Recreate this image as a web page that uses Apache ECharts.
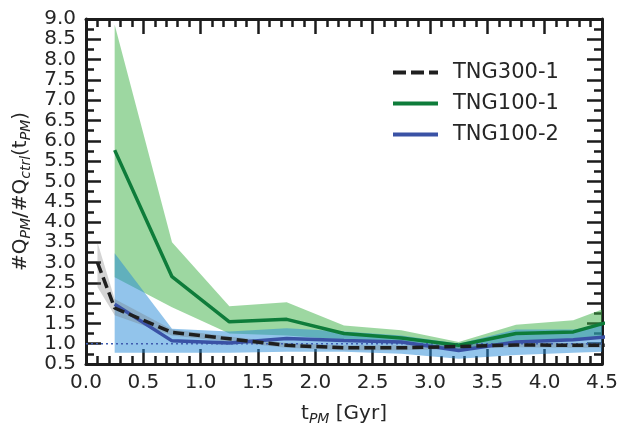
<!DOCTYPE html>
<html>
<head>
<meta charset="utf-8">
<script src="https://cdn.jsdelivr.net/npm/echarts@6/dist/echarts.min.js"></script>
<style>html,body{margin:0;padding:0;background:#fff;}#c{width:619px;height:423px;}</style>
</head>
<body>
<div id="c"></div>
<script>
// ---- data ----
var xTNG300 = [0.1, 0.25, 0.75, 1.25, 1.75, 2.25, 2.75, 3.25, 3.75, 4.25, 4.75];
var yTNG300 = [3.0, 1.88, 1.28, 1.12, 0.96, 0.9, 0.9, 0.93, 0.97, 0.96, 0.96];
var loTNG300 = [2.4, 1.7, 1.2, 1.05, 0.9, 0.84, 0.84, 0.87, 0.91, 0.9, 0.9];
var hiTNG300 = [3.5, 2.1, 1.35, 1.18, 1.02, 0.96, 0.96, 0.99, 1.03, 1.02, 1.02];

var xTNG100 = [0.25, 0.75, 1.25, 1.75, 2.25, 2.75, 3.25, 3.75, 4.25, 4.75];
var yTNG100_1 = [5.77, 2.65, 1.54, 1.6, 1.25, 1.14, 0.96, 1.25, 1.29, 1.69];
var loTNG100_1 = [2.64, 1.9, 1.25, 1.2, 1.1, 1.0, 0.85, 1.05, 1.1, 1.25];
var hiTNG100_1 = [8.86, 3.5, 1.92, 2.02, 1.45, 1.33, 1.04, 1.47, 1.58, 2.1];

var yTNG100_2 = [1.97, 1.07, 1.02, 1.13, 1.08, 1.04, 0.83, 1.04, 1.1, 1.22];
var loTNG100_2 = [0.78, 0.78, 0.78, 0.8, 0.8, 0.75, 0.63, 0.72, 0.78, 0.82];
var hiTNG100_2 = [3.23, 1.37, 1.3, 1.38, 1.3, 1.2, 1.0, 1.35, 1.35, 1.55];

var refX = [0, 4.5];
var refY = [1, 1];

var seriesNames = ['TNG300-1', 'TNG100-1', 'TNG100-2'];

// ---- helpers ----
function pairs(xs, ys) { return xs.map(function (x, i) { return [x, ys[i]]; }); }

function band(xs, lo, hi, color, opacity, z) {
  return {
    type: 'custom', silent: true, z: z,
    data: [[xs[0], lo[0]]],
    renderItem: function (params, api) {
      var pts = [];
      for (var i = 0; i < xs.length; i++) pts.push(api.coord([xs[i], hi[i]]));
      for (var j = xs.length - 1; j >= 0; j--) pts.push(api.coord([xs[j], lo[j]]));
      var cs = params.coordSys;
      return {
        type: 'group',
        clipPath: { type: 'rect', shape: { x: cs.x, y: cs.y, width: cs.width, height: cs.height } },
        children: [{ type: 'polygon', shape: { points: pts }, style: { fill: color, opacity: opacity } }]
      };
    }
  };
}

var FONT = 'DejaVu Sans';
var TXT = '#262626';
var AX = '#1c1c1c';

function xAx(pos, labels) {
  return {
    type: 'value', position: pos, min: 0, max: 4.5, interval: 0.5,
    axisLine: { show: true, onZero: false, lineStyle: { color: AX, width: 3 } },
    axisTick: { show: true, inside: true, length: 15, lineStyle: { color: AX, width: 2.5 } },
    minorTick: { show: true, splitNumber: 5, length: 8, lineStyle: { color: AX, width: 2.5 } },
    splitLine: { show: false }, minorSplitLine: { show: false },
    axisLabel: { show: labels, fontSize: 20, color: TXT, fontFamily: FONT, margin: 9,
      showMinLabel: true, showMaxLabel: true, hideOverlap: false,
      formatter: function (v) { return v.toFixed(1); } }
  };
}
function yAx(pos, labels) {
  return {
    type: 'value', position: pos, min: 0.5, max: 9, interval: 0.5,
    axisLine: { show: true, onZero: false, lineStyle: { color: AX, width: 3 } },
    axisTick: { show: true, inside: true, length: 15, lineStyle: { color: AX, width: 2.5 } },
    minorTick: { show: true, splitNumber: 2, length: 8, lineStyle: { color: AX, width: 2.5 } },
    splitLine: { show: false }, minorSplitLine: { show: false },
    axisLabel: { show: labels, fontSize: 20, color: TXT, fontFamily: FONT, margin: 10,
      showMinLabel: true, showMaxLabel: true, hideOverlap: false,
      formatter: function (v) { return v.toFixed(1); } }
  };
}

var xMain = xAx('bottom', true);
xMain.name = 't{s|PM} [Gyr]';
xMain.nameLocation = 'middle';
xMain.nameGap = 38;
xMain.nameTextStyle = { fontSize: 20, color: TXT, fontFamily: FONT,
  rich: { s: { fontSize: 14, fontStyle: 'italic', color: TXT, fontFamily: FONT, padding: [10, 0, 0, 0] } } };
var xTop = xAx('top', false);

var yMain = yAx('left', true);
yMain.name = '#Q{s|PM}/#Q{s|ctrl}(t{s|PM})';
yMain.nameLocation = 'middle';
yMain.nameGap = 51;
yMain.nameTextStyle = { fontSize: 20, color: TXT, fontFamily: FONT,
  rich: { s: { fontSize: 14, fontStyle: 'italic', color: TXT, fontFamily: FONT, padding: [10, 0, 0, 0] } } };
var yRight = yAx('right', false);

var dashIcon = 'path://M0,0h13v4H0z M18,0h13v4H18z M36,0h9v4H36z';

var chart = echarts.init(document.getElementById('c'), null, { renderer: 'canvas' });
chart.setOption({
  animation: false,
  backgroundColor: '#ffffff',
  grid: { left: 86, right: 17, top: 19, bottom: 59, containLabel: false, outerBoundsMode: 'none' },
  xAxis: [xMain, xTop],
  yAxis: [yMain, yRight],
  legend: {
    data: [
      { name: seriesNames[0], icon: dashIcon },
      { name: seriesNames[1], icon: 'rect' },
      { name: seriesNames[2], icon: 'rect' }
    ],
    orient: 'vertical', left: 388, top: 57,
    itemWidth: 45, itemHeight: 4, itemGap: 10,
    textStyle: { fontSize: 21, color: TXT, fontFamily: FONT, padding: [0, 0, 0, 10], lineHeight: 21 }
  },
  series: [
    band(xTNG100, loTNG100_1, hiTNG100_1, '#3cb043', 0.5, 1),
    band(xTNG100, loTNG100_2, hiTNG100_2, '#2589d7', 0.5, 1),
    band(xTNG300, loTNG300, hiTNG300, '#707070', 0.3, 1),
    { name: 'ref', type: 'line', silent: true, symbol: 'none', data: pairs(refX, refY), z: 3,
      lineStyle: { color: '#3f5cb0', width: 1.5, type: [2, 3] } },
    { name: 'TNG300-1', type: 'line', symbol: 'none', data: pairs(xTNG300, yTNG300), z: 5,
      lineStyle: { color: '#1f1f1f', width: 3.5, type: [11, 5], cap: 'butt' }, itemStyle: { color: '#1f1f1f' } },
    { name: 'TNG100-1', type: 'line', symbol: 'none', data: pairs(xTNG100, yTNG100_1), z: 4,
      lineStyle: { color: '#0e7c3a', width: 3.5 }, itemStyle: { color: '#0e7c3a' } },
    { name: 'TNG100-2', type: 'line', symbol: 'none', data: pairs(xTNG100, yTNG100_2), z: 4,
      lineStyle: { color: '#3a52a5', width: 3.5 }, itemStyle: { color: '#3a52a5' } }
  ]
});
</script>
</body>
</html>
